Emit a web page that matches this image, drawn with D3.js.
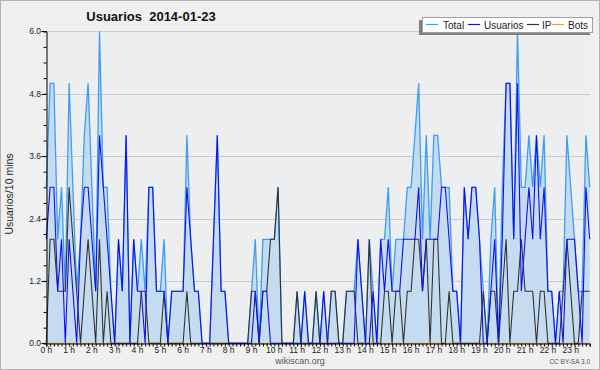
<!DOCTYPE html>
<html><head><meta charset="utf-8">
<script src="https://cdn.jsdelivr.net/npm/d3@7"></script>
<style>body{margin:0;background:#f0f0f0}svg{display:block}text{font-family:"Liberation Sans",Arial,sans-serif}</style>
</head><body><svg id="c" width="600" height="370"></svg>
<script>
const hourLabels = ["0 h","1 h","2 h","3 h","4 h","5 h","6 h","7 h","8 h","9 h","10 h","11 h","12 h","13 h","14 h","15 h","16 h","17 h","18 h","19 h","20 h","21 h","22 h","23 h"];
const yTicks = [0.0, 1.2, 2.4, 3.6, 4.8, 6.0];
const total = [3,5,5,2,3,1,5,3,1,2, 4,5,3,1,6,3,3,1,0,2, 1,4,0,2,1,2,1,3,3,1, 1,2,0,1,1,1,1,4,2,1,
  1,0,0,0,2,4,1,1,0,0, 0,0,0,0,1,2,0,2,2,2, 2,3,0,0,0,0,1,0,1,0, 0,1,0,1,0,1,1,0,0,1,
  1,1,2,1,0,2,1,0,2,2, 3,1,2,2,2,3,3,4,5,2, 4,2,4,4,3,3,3,1,1,0, 3,2,3,3,2,1,0,2,3,0,
  3,5,5,2,6,3,3,4,3,4, 3,4,1,1,0,1,1,4,3,2, 1,1,4,3];
const usuarios = [2,3,3,1,2,0,2,1,0,2, 3,3,2,1,4,3,2,1,0,2, 1,4,0,2,1,1,0,3,3,1, 1,1,0,1,1,1,1,3,2,1,
  1,0,0,0,2,4,1,1,0,0, 0,0,0,0,0,1,0,1,1,0, 0,0,0,0,0,0,0,0,1,0, 0,0,0,1,0,0,0,0,0,0,
  0,0,2,1,0,0,1,0,2,1, 2,1,1,1,2,2,2,2,3,1, 2,2,2,2,3,3,2,1,1,0, 3,2,3,3,2,0,0,1,2,0,
  2,5,5,2,5,1,2,3,2,4, 2,3,1,1,0,1,0,2,2,2, 1,0,3,2];
const ip = [0,2,2,1,1,1,3,2,1,0, 1,2,1,0,2,0,1,0,0,0, 0,0,0,0,0,1,1,0,0,0, 0,1,0,0,0,0,0,1,0,0,
  0,0,0,0,0,0,0,0,0,0, 0,0,0,0,1,1,0,1,1,2, 2,3,0,0,0,0,1,0,0,0, 0,1,0,0,0,1,1,0,0,1,
  1,1,0,0,0,2,0,0,0,1, 1,0,1,1,0,1,1,2,2,1, 2,0,2,2,0,0,1,0,0,0, 0,0,0,0,0,1,0,1,1,0,
  1,2,0,1,1,2,1,1,1,0, 1,1,0,0,0,0,1,2,1,0, 0,1,1,1];
const bots = new Array(144).fill(0);
const legendItems = [["Total","#3d9df5"],["Usuarios","#1010f0"],["IP","#333333"],["Bots","#ffa500"]];

const svg = d3.select("#c");
const W = 600, H = 370;
svg.append("rect").attr("x",0.5).attr("y",0.5).attr("width",W-1).attr("height",H-1).attr("fill","#f0f0f0").attr("stroke","#b4b4b4");
const x = d3.scaleLinear().domain([0,143]).range([46.3,589.7]);
const y = d3.scaleLinear().domain([0,6]).range([343.3,31.3]);
svg.append("rect").attr("x",46).attr("y",31).attr("width",544).attr("height",312).attr("fill","#eceef0");

// grid
svg.append("g").selectAll("line").data(yTicks.slice(1)).join("line")
  .attr("x1",46).attr("x2",590).attr("y1",d=>Math.round(y(d))+0.5).attr("y2",d=>Math.round(y(d))+0.5)
  .attr("stroke","#cdcdcd").attr("stroke-width",1);

const idx = d3.range(144);
const area = d3.area().x(i=>x(i)).y0(y(0)).y1(i=>y(total[i]));
svg.append("path").attr("d",area(idx)).attr("fill","#c5dcf0");
const line = arr => d3.line().x(i=>x(i)).y(i=>y(arr[i]))(idx);
svg.append("path").attr("d",line(bots)).attr("fill","none").attr("stroke","#ffa500").attr("stroke-width",1);
svg.append("path").attr("d",line(total)).attr("fill","none").attr("stroke","#3d9df5").attr("stroke-width",1.3);
svg.append("path").attr("d",line(ip)).attr("fill","none").attr("stroke","#333333").attr("stroke-width",1.1);
svg.append("path").attr("d",line(usuarios)).attr("fill","none").attr("stroke","#1010f0").attr("stroke-width",1.1);

// axes
const yAxis = d3.axisLeft(y).tickValues(d3.range(0,6.01,0.3)).tickSize(3).tickFormat("");
svg.append("g").attr("transform","translate(46.5,0)").call(yAxis).call(g=>{g.select(".domain").attr("stroke","#000");g.selectAll(".tick line").attr("stroke","#000");});
svg.append("g").selectAll("text").data(yTicks).join("text")
  .attr("x",41).attr("y",d=>y(d)+3).attr("text-anchor","end").attr("font-size",8.5).attr("fill","#222").text(d=>d.toFixed(1));
svg.append("g").selectAll("line").data(yTicks).join("line")
  .attr("x1",41.5).attr("x2",46).attr("y1",d=>Math.round(y(d))+0.5).attr("y2",d=>Math.round(y(d))+0.5).attr("stroke","#000");

const xAxis = d3.axisBottom(x).tickValues(idx).tickSize(3).tickFormat("");
svg.append("g").attr("transform","translate(0,343.5)").call(xAxis).call(g=>{g.select(".domain").attr("stroke","#000");g.selectAll(".tick line").attr("stroke","#000");});
svg.append("g").selectAll("text").data(hourLabels).join("text")
  .attr("x",(d,i)=>x(i*6)).attr("y",353).attr("text-anchor","middle").attr("font-size",8.5).attr("fill","#222").text(d=>d);

// titles
svg.append("text").attr("x",151).attr("y",21).attr("text-anchor","middle").attr("font-size",13).attr("font-weight","bold").attr("fill","#111").style("white-space","pre").text("Usuarios  2014-01-23");
svg.append("text").attr("transform","translate(13,194) rotate(-90)").attr("text-anchor","middle").attr("font-size",10.5).attr("fill","#222").text("Usuarios/10 mins");
svg.append("text").attr("x",300).attr("y",364).attr("text-anchor","middle").attr("font-size",9).attr("fill","#555").text("wikiscan.org");
svg.append("text").attr("x",590).attr("y",364).attr("text-anchor","end").attr("font-size",6.5).attr("fill","#555").text("CC BY-SA 3.0");

// legend
const lg = svg.append("g");
lg.append("rect").attr("x",419).attr("y",20).attr("width",171).attr("height",15).attr("fill","#808080");
lg.append("rect").attr("x",422.5).attr("y",17.5).attr("width",170).attr("height",15).attr("fill","#fff").attr("stroke","#a0a0a0");
const lx = [426,468,527,552], tx=[443,484,542,568];
legendItems.forEach((d,i)=>{
  lg.append("line").attr("x1",lx[i]).attr("x2",lx[i]+12).attr("y1",24.5).attr("y2",24.5).attr("stroke",d[1]).attr("stroke-width",1.2);
  lg.append("text").attr("x",tx[i]).attr("y",28.5).attr("font-size",10).attr("fill","#222").text(d[0]);
});
</script></body></html>
